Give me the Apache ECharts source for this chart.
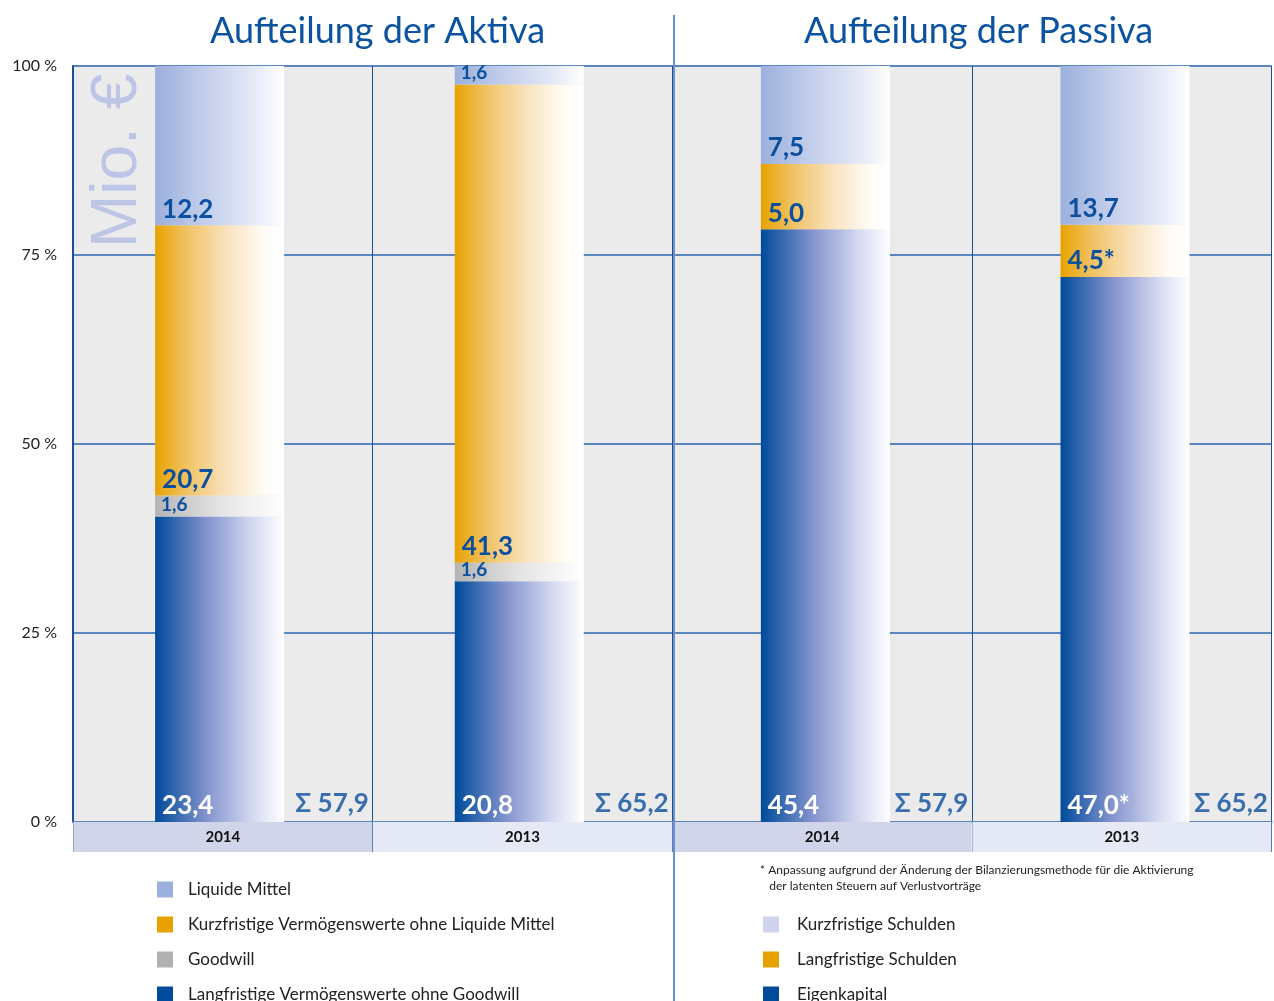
<!DOCTYPE html>
<html>
<head>
<meta charset="utf-8">
<script src="https://cdn.jsdelivr.net/npm/echarts@6/dist/echarts.min.js"></script>
<style>
html, body { margin: 0; padding: 0; background: #fff; }
#chart { width: 1274px; height: 1001px; }
</style>
</head>
<body>
<div id="chart"></div>
<script>
// Kategorien (Aktiva 2014, 2013 | Passiva 2014, 2013)
const categories = ['2014', '2013', '2014', '2013'];

// Aktiva in Mio. € (Index 0 = 2014, 1 = 2013)
const aktivaLangfristig = [23.4, 20.8];
const aktivaGoodwill = [1.6, 1.6];
const aktivaKurzfristig = [20.7, 41.3];
const aktivaLiquide = [12.2, 1.6];

// Passiva in Mio. €
const passivaEigenkapital = [45.4, 47.0];
const passivaLangfristig = [5.0, 4.5];
const passivaKurzfristig = [7.5, 13.7];

// Fussnoten-Markierung (angepasste Werte)
const eigenkapitalMark = ['', '*'];
const langSchuldenMark = ['', '*'];

// Summen je Säule
const totals = [57.9, 65.2, 57.9, 65.2];

const yTicks = [0, 25, 50, 75, 100];

const aktivaParts = [aktivaLangfristig, aktivaGoodwill, aktivaKurzfristig, aktivaLiquide];
const passivaParts = [passivaEigenkapital, passivaLangfristig, passivaKurzfristig];

const BLUE_TEXT = '#0b4f9e';
const FONT = 'Lato';

function fmt(v) {
    return v.toFixed(1).replace('.', ',');
}

function grad(stops) {
    return new echarts.graphic.LinearGradient(0, 0, 1, 0,
        stops.map(s => ({ offset: s[0], color: s[1] })));
}

const gradDark = grad([[0, '#004b9b'], [0.4, '#8393cd'], [0.75, '#d3d8f0'], [1, '#ffffff']]);
const gradLight = grad([[0, '#9bb0dc'], [0.4, '#c4cfec'], [0.75, '#e3e8f6'], [1, '#ffffff']]);
const gradOrange = grad([[0, '#e8a200'], [0.25, '#f0c265'], [0.55, '#f8e2bc'], [0.85, '#fffcf6'], [1, '#ffffff']]);
const gradGray = grad([[0, '#b4b4b4'], [0.5, '#e4e4e4'], [1, '#ffffff']]);

function share(parts, i, v) {
    const sum = parts.reduce((acc, p) => acc + p[i], 0);
    return v / sum * 100;
}

function makeSeries(name, values, parts, side, color, opts) {
    opts = opts || {};
    const offset = side === 'A' ? 0 : 2;
    return {
        name: name,
        type: 'bar',
        stack: side,
        barWidth: 129,
        barGap: '-95%',
        itemStyle: { color: color },
        data: categories.map((c, k) => {
            const i = k - offset;
            if (i < 0 || i > 1) return '-';
            return share(parts, i, values[i]);
        }),
        label: {
            show: true,
            position: 'insideBottomLeft',
            distance: opts.distance != null ? opts.distance : 3,
            offset: [4, 0],
            fontFamily: FONT,
            fontWeight: 'bold',
            fontSize: opts.fontSize || 26,
            lineHeight: opts.fontSize || 26,
            color: opts.color || BLUE_TEXT,
            formatter: p => {
                const i = p.dataIndex - offset;
                return fmt(values[i]) + (opts.mark ? opts.mark[i] : '');
            }
        }
    };
}

const series = [
    makeSeries('Langfristige Vermögenswerte ohne Goodwill', aktivaLangfristig, aktivaParts, 'A', gradDark, { color: '#ffffff' }),
    makeSeries('Goodwill', aktivaGoodwill, aktivaParts, 'A', gradGray, { fontSize: 19, distance: 2 }),
    makeSeries('Kurzfristige Vermögenswerte ohne Liquide Mittel', aktivaKurzfristig, aktivaParts, 'A', gradOrange),
    makeSeries('Liquide Mittel', aktivaLiquide, aktivaParts, 'A', gradLight, { fontSize: 19, distance: 2 }),
    makeSeries('Eigenkapital', passivaEigenkapital, passivaParts, 'P', gradDark, { color: '#ffffff', mark: eigenkapitalMark }),
    makeSeries('Langfristige Schulden', passivaLangfristig, passivaParts, 'P', gradOrange, { mark: langSchuldenMark }),
    makeSeries('Kurzfristige Schulden', passivaKurzfristig, passivaParts, 'P', gradLight)
];

// Liquide Mittel 2014 bekommt die grosse Schrift (12,2), 2013 die kleine (1,6)
series[3].data = series[3].data.map((v, k) => {
    if (k === 0) return { value: v, label: { fontSize: 26, lineHeight: 26, distance: 3 } };
    return v;
});

// Summen rechts neben den Säulen
series.push({
    type: 'scatter',
    symbolSize: 1,
    itemStyle: { color: 'transparent' },
    silent: true,
    data: categories.map((c, k) => [k, 0]),
    label: {
        show: true,
        position: 'right',
        distance: 72,
        offset: [0, -18],
        fontFamily: FONT,
        fontWeight: 'bold',
        fontSize: 26,
        color: BLUE_TEXT,
        formatter: p => 'Σ ' + fmt(totals[p.dataIndex])
    }
});

const chart = echarts.init(document.getElementById('chart'));

const legendBase = {
    orient: 'vertical', padding: 0, height: 140,
    itemWidth: 16, itemHeight: 16, itemGap: 18, icon: 'rect'
};

chart.setOption({
    animation: false,
    textStyle: { fontFamily: FONT },
    grid: {
        left: 73, right: 0, top: 66, bottom: 179,
        show: true, backgroundColor: '#ebebeb', borderWidth: 0
    },
    xAxis: {
        type: 'category',
        data: categories,
        axisLine: { lineStyle: { color: '#5b87c0', width: 2 } },
        axisTick: { show: true, length: 30, lineStyle: { color: '#1d4f95', width: 1 } },
        splitLine: { show: true, lineStyle: { color: '#1d4f95', width: 1 } },
        axisLabel: {
            margin: 0,
            formatter: (v, i) => (i % 2 === 0 ? '{a|' + v + '}' : '{b|' + v + '}'),
            rich: {
                a: { width: 299, height: 30, lineHeight: 30, align: 'center', backgroundColor: '#d0d5ea',
                     fontWeight: 'bold', fontSize: 15, color: '#111', fontFamily: FONT },
                b: { width: 299, height: 30, lineHeight: 30, align: 'center', backgroundColor: '#e5e8f5',
                     fontWeight: 'bold', fontSize: 15, color: '#111', fontFamily: FONT }
            }
        }
    },
    yAxis: {
        type: 'value',
        min: yTicks[0],
        max: yTicks[yTicks.length - 1],
        interval: 25,
        axisLine: { show: true, lineStyle: { color: '#1d4f95', width: 2 } },
        axisTick: { show: false },
        splitLine: { lineStyle: { color: '#5b87c0', width: 2 } },
        axisLabel: { margin: 16, fontSize: 16, color: '#222', formatter: '{value} %' }
    },
    legend: [
        Object.assign({}, legendBase, {
            left: 157, top: 881,
            textStyle: { fontSize: 17, color: '#222', lineHeight: 16, padding: [0, 0, 0, 10] },
            data: [
                { name: 'Liquide Mittel', itemStyle: { color: '#9bb0dc' } },
                { name: 'Kurzfristige Vermögenswerte ohne Liquide Mittel', itemStyle: { color: '#e8a200' } },
                { name: 'Goodwill', itemStyle: { color: '#b1b1b1' } },
                { name: 'Langfristige Vermögenswerte ohne Goodwill', itemStyle: { color: '#004b9b' } }
            ]
        }),
        Object.assign({}, legendBase, {
            left: 763, top: 916,
            textStyle: { fontSize: 17, color: '#222', lineHeight: 16, padding: [0, 0, 0, 13] },
            data: [
                { name: 'Kurzfristige Schulden', itemStyle: { color: '#cfd4ec' } },
                { name: 'Langfristige Schulden', itemStyle: { color: '#e8a200' } },
                { name: 'Eigenkapital', itemStyle: { color: '#004b9b' } }
            ]
        })
    ],
    graphic: [
        {
            type: 'line', z: 100,
            shape: { x1: 674, y1: 15, x2: 674, y2: 1001 },
            style: { stroke: '#6a92c8', lineWidth: 2 }
        },
        {
            type: 'text', z: 100,
            left: 376 - 166, top: 13,
            style: { text: 'Aufteilung der Aktiva', fontSize: 36, fontFamily: FONT, fill: '#0b52a0' }
        },
        {
            type: 'text', z: 100,
            left: 977 - 173, top: 13,
            style: { text: 'Aufteilung der Passiva', fontSize: 36, fontFamily: FONT, fill: '#0b52a0' }
        },
        {
            type: 'text', z: 100, x: 150, y: 248, rotation: Math.PI / 2,
            style: { text: 'Mio. €', fontSize: 64, fontFamily: 'Liberation Sans', fill: '#bcc5e6',
                     textAlign: 'left', textVerticalAlign: 'bottom' }
        },
        {
            type: 'text', z: 100, left: 760, top: 862,
            style: {
                text: '* Anpassung aufgrund der Änderung der Bilanzierungsmethode für die Aktivierung\n   der latenten Steuern auf Verlustvorträge',
                fontSize: 12, lineHeight: 16, fontFamily: FONT, fill: '#222'
            }
        }
    ],
    series: series
});
</script>
</body>
</html>
